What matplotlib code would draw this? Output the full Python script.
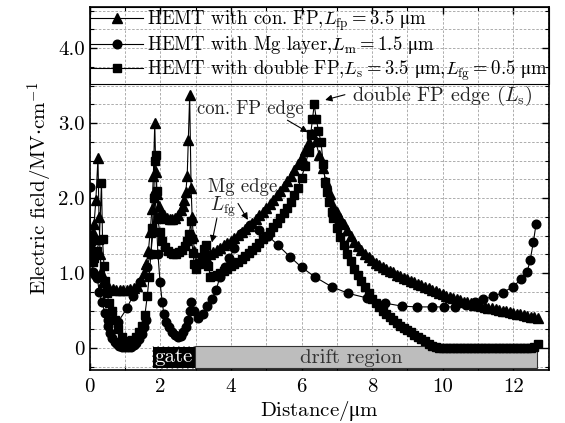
import numpy as np
import matplotlib
matplotlib.use("Agg")
import matplotlib.pyplot as plt
from matplotlib.patches import Rectangle
from matplotlib.ticker import MultipleLocator

plt.rcParams['font.family'] = ['cmr10', 'DejaVu Serif']
plt.rcParams['mathtext.fontset'] = 'custom'
plt.rcParams['mathtext.rm'] = 'cmr10'
plt.rcParams['mathtext.it'] = 'cmmi10'
plt.rcParams['mathtext.bf'] = 'cmb10'
plt.rcParams['mathtext.sf'] = 'STIXGeneral'   # only used for the upright micro sign
plt.rcParams['mathtext.fallback'] = 'stix'
plt.rcParams['axes.formatter.use_mathtext'] = True
plt.rcParams['axes.unicode_minus'] = False

UM = r'$\mathsf{\mu}$m'

# ---- data (x in um, field in MV/cm) ----
# HEMT with conventional FP (triangles)
fp_x = [0.00, 0.04, 0.08, 0.12, 0.17, 0.23, 0.26, 0.29, 0.33, 0.38, 0.45, 0.55, 0.65,
        0.75, 0.85, 0.95, 1.05, 1.15, 1.25, 1.35, 1.45, 1.53, 1.60, 1.66, 1.71, 1.76,
        1.80, 1.84, 1.87, 1.89, 1.95, 2.02, 2.10, 2.18, 2.26, 2.34, 2.42, 2.50, 2.57,
        2.63, 2.68, 2.72, 2.76, 2.79, 2.83, 2.87, 2.90, 2.93, 2.96, 3.00,
        3.1, 3.2, 3.3, 3.4, 3.5, 3.6, 3.7, 3.8, 3.9, 4.0, 4.1, 4.2, 4.3, 4.4, 4.5,
        4.6, 4.7, 4.8, 4.9, 5.0, 5.1, 5.2, 5.3, 5.4, 5.5, 5.6, 5.7, 5.8, 5.9, 6.0,
        6.1, 6.2, 6.3, 6.4, 6.5, 6.6, 6.7, 6.8, 6.9, 7.0, 7.1, 7.2, 7.3, 7.4, 7.5,
        7.6, 7.7, 7.8, 7.9, 8.0, 8.1, 8.2, 8.3, 8.4, 8.5, 8.6, 8.7, 8.8, 8.9, 9.0,
        9.1, 9.2, 9.3, 9.4, 9.5, 9.6, 9.7, 9.8, 9.9, 10.0, 10.1, 10.2, 10.3, 10.4,
        10.5, 10.6, 10.7, 10.8, 10.9, 11.0, 11.1, 11.2, 11.3, 11.4, 11.5, 11.6,
        11.7, 11.8, 11.9, 12.0, 12.1, 12.2, 12.3, 12.4, 12.5, 12.6, 12.7]
fp_y = [1.30, 1.45, 1.55, 1.66, 1.97, 2.53, 1.75, 1.25, 1.02, 0.88, 0.82, 0.80, 0.79,
        0.78, 0.78, 0.78, 0.78, 0.79, 0.80, 0.83, 0.90, 1.00, 1.12, 1.30, 1.55, 1.85,
        2.30, 3.00, 2.35, 2.05, 1.90, 1.82, 1.77, 1.74, 1.72, 1.72, 1.74, 1.78, 1.84,
        1.90, 1.98, 2.08, 2.30, 2.77, 3.37, 2.13, 1.75, 1.50, 1.30, 1.14,
        1.16, 1.19, 1.22, 1.25, 1.28, 1.31, 1.34, 1.37, 1.40, 1.43, 1.47, 1.51, 1.55,
        1.59, 1.63, 1.67, 1.72, 1.77, 1.82, 1.87, 1.92, 1.98, 2.04, 2.10, 2.16, 2.23,
        2.30, 2.38, 2.46, 2.55, 2.64, 2.75, 2.85, 2.76, 2.58, 2.40, 2.22, 2.05, 1.90,
        1.82, 1.74, 1.66, 1.57, 1.49, 1.42, 1.36, 1.31, 1.26, 1.21, 1.17, 1.14, 1.11,
        1.08, 1.06, 1.03, 1.01, 0.98, 0.96, 0.94, 0.92, 0.90, 0.88, 0.86, 0.84, 0.82,
        0.80, 0.78, 0.76, 0.74, 0.72, 0.70, 0.68, 0.67, 0.65, 0.64, 0.62, 0.61, 0.60,
        0.58, 0.57, 0.56, 0.55, 0.54, 0.53, 0.52, 0.51, 0.50, 0.49, 0.48, 0.47, 0.46,
        0.45, 0.44, 0.43, 0.42, 0.41, 0.40]

# HEMT with Mg layer (circles); nan splits the dense dip under the source-gate gap
mg_x = [0.00, 0.03, 0.06, 0.10, 0.16, 0.21, 0.27, 0.34, 0.43, 0.52, 0.80, 1.05, 1.22,
        1.42, 1.61, 1.73, 1.79, 1.85, 1.93, 1.99, 2.05, 2.10, 2.17, 2.25, 2.33, 2.41,
        2.49, 2.57, 2.65, 2.72, 2.78, 2.83, 2.87, 2.95, 3.07, 3.20, 3.32, 3.46, 3.58,
        3.69, 3.82, 3.95, 4.10, 4.30, 4.54, 4.80, 5.05, 5.34, 5.67, 6.00, 6.38, 6.85,
        7.33, 7.85, 8.37, 8.85, 9.28, 9.70, 10.05, 10.35, 10.65, 10.92, 11.15, 11.43,
        11.70, 12.00, 12.22, 12.39, 12.48, 12.57, 12.65, np.nan,
        0.52, 0.58, 0.64, 0.70, 0.77, 0.84, 0.92, 1.00, 1.08, 1.16, 1.24, 1.32, 1.40,
        1.47, 1.53, 1.58]
mg_y = [2.15, 1.40, 1.15, 1.02, 0.98, 0.93, 0.75, 0.61, 0.47, 0.37, 0.35, 0.53, 0.70,
        0.88, 1.08, 1.26, 1.55, 2.06, 1.26, 0.88, 0.62, 0.45, 0.35, 0.28, 0.22, 0.18,
        0.15, 0.16, 0.21, 0.28, 0.37, 0.50, 0.62, 0.50, 0.40, 0.45, 0.56, 0.66, 0.78,
        0.95, 1.08, 1.20, 1.33, 1.53, 1.64, 1.58, 1.50, 1.37, 1.22, 1.08, 0.95, 0.82,
        0.73, 0.67, 0.60, 0.56, 0.55, 0.55, 0.55, 0.55, 0.58, 0.62, 0.65, 0.69,
        0.74, 0.82, 0.92, 1.01, 1.17, 1.41, 1.66, np.nan,
        0.30, 0.20, 0.13, 0.08, 0.05, 0.03, 0.02, 0.01, 0.01, 0.02, 0.04, 0.07, 0.12,
        0.19, 0.28, 0.38]

# HEMT with double FP (squares)
dfp_x = [0.00, 0.04, 0.08, 0.13, 0.20, 0.27, 0.33, 0.36, 0.40, 0.44, 0.48, 0.55, 0.62,
         0.70, 0.80, 0.90, 1.00, 1.10, 1.20, 1.30, 1.40, 1.47, 1.56, 1.63, 1.68, 1.73,
         1.77, 1.81, 1.84, 1.87, 1.90, 1.93, 1.98, 2.05, 2.13, 2.21, 2.29, 2.37, 2.45,
         2.53, 2.61, 2.69, 2.76, 2.82, 2.86, 2.89, 2.92, 2.96, 3.02, 3.10, 3.18, 3.25,
         3.30, 3.36, 3.42,
         3.5, 3.6, 3.7, 3.8, 3.9, 4.0, 4.1, 4.2, 4.3, 4.4, 4.5, 4.6, 4.7, 4.8, 4.9,
         5.0, 5.1, 5.2, 5.3, 5.4, 5.5, 5.6, 5.7, 5.8, 5.9, 6.0, 6.1, 6.2, 6.26, 6.31,
         6.36, 6.42, 6.48, 6.55, 6.62, 6.67, 6.72, 6.78, 6.85, 6.9, 7.0, 7.1, 7.2,
         7.3, 7.4, 7.5, 7.6, 7.7, 7.8, 7.9, 8.0, 8.1, 8.2, 8.3, 8.4, 8.5, 8.6, 8.7,
         8.8, 8.9, 9.0, 9.1, 9.2, 9.3, 9.4, 9.5, 9.6, 9.7, 9.8, 9.9, 10.0, 10.1,
         10.2, 10.3, 10.4, 10.5, 10.6, 10.7, 10.8, 10.9, 11.0, 11.1, 11.2, 11.3,
         11.4, 11.5, 11.6, 11.7, 11.8, 11.9, 12.0, 12.1, 12.2, 12.3, 12.4, 12.5,
         12.6, 12.7]
dfp_y = [1.50, 1.30, 1.15, 1.20, 1.30, 1.44, 2.20, 1.45, 1.10, 0.90, 0.73, 0.60, 0.49,
         0.38, 0.25, 0.15, 0.10, 0.09, 0.11, 0.15, 0.22, 0.30, 0.44, 0.70, 0.95, 1.25,
         1.60, 2.00, 2.50, 2.58, 2.10, 1.72, 1.55, 1.43, 1.35, 1.30, 1.27, 1.26, 1.26,
         1.28, 1.31, 1.36, 1.43, 1.52, 1.70, 1.45, 1.27, 1.12, 1.05, 1.12, 1.22, 1.32,
         1.38, 1.10, 0.95,
         0.96, 0.98, 1.00, 1.03, 1.06, 1.09, 1.12, 1.15, 1.19, 1.23, 1.27, 1.31, 1.35,
         1.40, 1.45, 1.50, 1.55, 1.61, 1.67, 1.73, 1.80, 1.87, 1.95, 2.04, 2.14, 2.27,
         2.43, 2.62, 2.85, 3.05, 3.25, 3.05, 2.90, 2.75, 2.45, 2.22, 2.08, 1.95, 1.82,
         1.74, 1.60, 1.48, 1.37, 1.26, 1.16, 1.06, 0.97, 0.89, 0.81, 0.73, 0.66, 0.60,
         0.55, 0.50, 0.45, 0.41, 0.37, 0.33, 0.30, 0.27, 0.24, 0.21, 0.18, 0.15, 0.12,
         0.09, 0.06, 0.03, 0.01, 0.00, 0.00, 0.00, 0.00, 0.00, 0.00, 0.00, 0.00, 0.00,
         0.00, 0.00, 0.00, 0.00, 0.00, 0.00, 0.00, 0.00, 0.00, 0.00, 0.00, 0.00, 0.00,
         0.00, 0.00, 0.00, 0.00, 0.00, 0.02, 0.05]

# device regions drawn as boxes along the bottom
gate_start, gate_end, drift_end = 1.75, 2.97, 12.67

fig = plt.figure(figsize=(5.65, 4.23), dpi=100)
ax = fig.add_axes([0.159, 0.125, 0.813, 0.858])

ax.add_patch(Rectangle((gate_start, -0.27), gate_end - gate_start, 0.30,
                       facecolor='black', edgecolor='white', lw=0.7, ls='--', zorder=2))
ax.add_patch(Rectangle((gate_end, -0.27), drift_end - gate_end, 0.30,
                       facecolor='#bdbdbd', edgecolor='#333333', lw=0.8, zorder=2))
ax.text((gate_start + gate_end) / 2, -0.125, 'gate', color='white', fontsize=15,
        ha='center', va='center', zorder=3)
ax.text(7.4, -0.125, 'drift region', color='#333333', fontsize=15,
        ha='center', va='center', zorder=3)

ax.plot(fp_x, fp_y, color='black', lw=0.8, marker='^', ms=7,
        label=r'HEMT with con. FP,$L_{\rm fp}=3.5$ ' + UM, zorder=4)
ax.plot(mg_x, mg_y, color='black', lw=0.8, marker='o', ms=6.2,
        label=r'HEMT with Mg layer,$L_{\rm m}=1.5$ ' + UM, zorder=4)
ax.plot(dfp_x, dfp_y, color='black', lw=0.8, marker='s', ms=5.3,
        label=r'HEMT with double FP,$L_{\rm s}=3.5$ ' + UM + r',$L_{\rm fg}=0.5$ ' + UM,
        zorder=4)

# annotations
arrow = dict(arrowstyle='-|>', color='black', lw=0.8, mutation_scale=10,
             shrinkA=0, shrinkB=0)
ax.annotate('', xy=(6.18, 2.88), xytext=(5.6, 3.04), arrowprops=arrow, zorder=5)
ax.annotate('', xy=(6.67, 3.31), xytext=(7.23, 3.38), arrowprops=arrow, zorder=5)
ax.annotate('', xy=(4.48, 1.71), xytext=(4.2, 1.93), arrowprops=arrow, zorder=5)
ax.annotate('', xy=(3.46, 1.41), xytext=(3.6, 1.73), arrowprops=arrow, zorder=5)
ax.text(4.54, 3.19, 'con. FP edge', fontsize=13.5, ha='center', va='center', color='#222222')
ax.text(10.0, 3.37, r'double FP edge ($L_{\rm s}$)', fontsize=14.5, ha='center',
        va='center', color='#222222')
ax.text(4.34, 2.15, 'Mg edge', fontsize=13.5, ha='center', va='center', color='#222222')
ax.text(3.77, 1.88, r'$L_{\rm fg}$', fontsize=14, ha='center', va='center', color='#222222')

ax.set_xlim(0, 13.02)
ax.set_ylim(-0.293, 4.547)
ax.set_xticks([0, 2, 4, 6, 8, 10, 12])
ax.set_xticklabels(['0', '2', '4', '6', '8', '10', '12'])
ax.set_yticks([0, 1, 2, 3, 4])
ax.set_yticklabels(['0', '1.0', '2.0', '3.0', '4.0'])
ax.xaxis.set_minor_locator(MultipleLocator(1))
ax.yaxis.set_minor_locator(MultipleLocator(0.25))
ax.tick_params(which='both', direction='in', top=True, right=True, labelsize=15)
ax.tick_params(which='major', length=5, width=1)
ax.tick_params(which='minor', length=3, width=0.8)
ax.tick_params(axis='x', pad=6)
for s in ax.spines.values():
    s.set_linewidth(1.2)

ax.grid(True, which='both', linestyle=(0, (3, 2)), color='#a0a0a0', lw=0.6)
ax.set_axisbelow(True)

ax.set_xlabel('Distance/' + UM, fontsize=15, labelpad=2)
ax.set_ylabel(r'Electric field/MV$\cdot$cm$^{-1}$', fontsize=15, labelpad=2)

leg = ax.legend(loc='upper left', bbox_to_anchor=(0, 1), borderaxespad=0,
                fontsize=13.5, fancybox=False, edgecolor='black', facecolor='none',
                framealpha=1, handlelength=2.8, handletextpad=0.2, borderpad=0.05,
                labelspacing=0.1)
leg.get_frame().set_linewidth(0.8)

fig.savefig('out.png', dpi=100)
